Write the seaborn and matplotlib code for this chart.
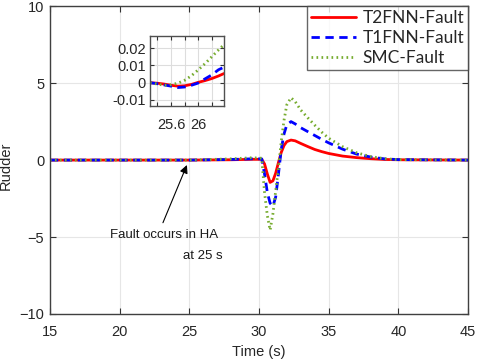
import numpy as np
import pandas as pd
import matplotlib
matplotlib.use("Agg")
import matplotlib.pyplot as plt
import seaborn as sns

# ---------------- data ----------------
t = [15, 25, 28, 29.5, 30.2, 30.4, 30.6, 30.8, 31.0, 31.2, 31.4, 31.6, 31.8, 32.0,
     32.3, 32.6, 33.0, 33.5, 34, 34.5, 35, 36, 37, 38, 39, 40, 45]
t2fnn = [0, 0, 0.02, 0.05, 0.05, -0.25, -0.9, -1.45, -1.35, -0.85, -0.15, 0.5, 0.95, 1.2,
         1.3, 1.25, 1.08, 0.88, 0.69, 0.55, 0.43, 0.26, 0.16, 0.09, 0.04, 0.02, 0]
t1fnn = [0, 0, 0.04, 0.08, 0.08, -0.9, -2.1, -2.8, -3.0, -2.4, -0.9, 0.7, 1.7, 2.3,
         2.5, 2.35, 2.1, 1.85, 1.6, 1.35, 1.12, 0.71, 0.39, 0.2, 0.08, 0.03, 0]
smc = [0, 0, 0.08, 0.15, 0.12, -2.1, -3.6, -4.55, -3.5, -2.0, -0.5, 1.2, 2.6, 3.6,
       4.05, 3.8, 3.25, 2.75, 2.27, 1.82, 1.42, 0.87, 0.48, 0.23, 0.09, 0.03, 0]

ti = [25.29, 25.4, 25.5, 25.6, 25.7, 25.8, 25.9, 26.0, 26.1, 26.2, 26.3, 26.38]
t2fnn_i = [0, -0.0003, -0.0008, -0.0015, -0.002, -0.0018, -0.001, 0.0002, 0.0012, 0.0024, 0.0039, 0.0053]
t1fnn_i = [0, -0.0006, -0.0013, -0.002, -0.0028, -0.0025, -0.0015, -0.0002, 0.0022, 0.0045, 0.0075, 0.009]
smc_i = [0, -0.0008, -0.0015, -0.0012, -0.0003, 0.0014, 0.004, 0.0074, 0.011, 0.015, 0.019, 0.022]

labels = ["T2FNN-Fault", "T1FNN-Fault", "SMC-Fault"]
colors = ["#ff0000", "#0000ff", "#77ac30"]
styles = ["-", (0, (3, 2)), (0, (0.6, 1.2))]
widths = [2.0, 2.0, 2.0]

xticks = [15, 20, 25, 30, 35, 40, 45]
yticks = [-10, -5, 0, 5, 10]

# ---------------- style ----------------
sns.set_theme(style="white")
plt.rcParams["font.family"] = ["Liberation Sans", "DejaVu Sans"]

fig = plt.figure(figsize=(4.8, 3.62), dpi=100)
ax = fig.add_axes([0.104, 0.1326, 0.871, 0.8504])

main_series = [t2fnn, t1fnn, smc]
handles = []
for y, lab, c, ls, lw in zip(main_series, labels, colors, styles, widths):
    df = pd.DataFrame({"t": t, "v": y})
    sns.lineplot(data=df, x="t", y="v", ax=ax, color=c, linestyle=ls, lw=lw,
                 estimator=None, sort=False, legend=False)
    handles.append(ax.lines[-1])

ax.set_xlim(15, 45)
ax.set_ylim(-10, 10)
ax.set_xticks(xticks)
ax.set_yticks(yticks)
ax.grid(True, color="#e6e6e6", lw=0.8)
ax.tick_params(direction="in", length=4, width=0.8, colors="#333333",
               labelsize=10.5, labelcolor="#262626", top=True, right=True,
               bottom=True, left=True, pad=4)
ax.tick_params(axis="x", pad=8)
for s in ax.spines.values():
    s.set_color("#404040")
    s.set_linewidth(1.0)
ax.set_xlabel("Time (s)", fontsize=10.5, color="#262626")
ax.set_ylabel("Rudder", fontsize=10.5, color="#262626")
ax.xaxis.set_label_coords(0.5, -0.102)
ax.yaxis.set_label_coords(-0.088, 0.48)

leg = ax.legend(handles, labels, loc="upper right", borderaxespad=0,
                frameon=True, fancybox=False, edgecolor="#404040",
                prop={"family": "Lato", "size": 12.5}, handlelength=2.6,
                labelspacing=0.25, borderpad=0.2, handletextpad=0.4)
leg.get_frame().set_linewidth(1.0)

ax.annotate("", xy=(24.83, -0.32), xytext=(23.11, -4.07),
            arrowprops=dict(arrowstyle="-|>", color="black", lw=0.8,
                            mutation_scale=12, shrinkA=0, shrinkB=0))
ax.text(27.1, -4.87, "Fault occurs in HA", ha="right", va="center",
        fontsize=9.5, color="#1a1a1a")
ax.text(27.4, -6.23, "at 25 s", ha="right", va="center",
        fontsize=9.5, color="#1a1a1a")

# ---------------- inset ----------------
axi = fig.add_axes([0.3125, 0.7072, 0.154, 0.193])
inset_series = [t2fnn_i, t1fnn_i, smc_i]
for y, c, ls, lw in zip(inset_series, colors, styles, widths):
    df = pd.DataFrame({"t": ti, "v": y})
    sns.lineplot(data=df, x="t", y="v", ax=axi, color=c, linestyle=ls, lw=lw,
                 estimator=None, sort=False, legend=False)
axi.set_xlim(25.29, 26.38)
axi.set_ylim(-0.0135, 0.027)
axi.set_xticks([25.4, 25.6, 25.8, 26.0, 26.2])
axi.set_xticklabels(["", "25.6", "", "26", ""])
axi.set_yticks([-0.01, 0, 0.01, 0.02])
axi.set_yticklabels(["-0.01", "0", "0.01", "0.02"])
axi.set_xlabel("")
axi.set_ylabel("")
axi.grid(True, color="#dddddd", lw=0.8)
axi.tick_params(direction="in", length=3, width=0.8, colors="#333333",
                labelsize=10.5, labelcolor="#262626", top=True, right=True,
                bottom=True, left=True, pad=3)
axi.tick_params(axis="x", pad=9)
for s in axi.spines.values():
    s.set_color("#505050")
    s.set_linewidth(1.0)
axi.set_facecolor("white")

fig.savefig("out.png", dpi=100)
